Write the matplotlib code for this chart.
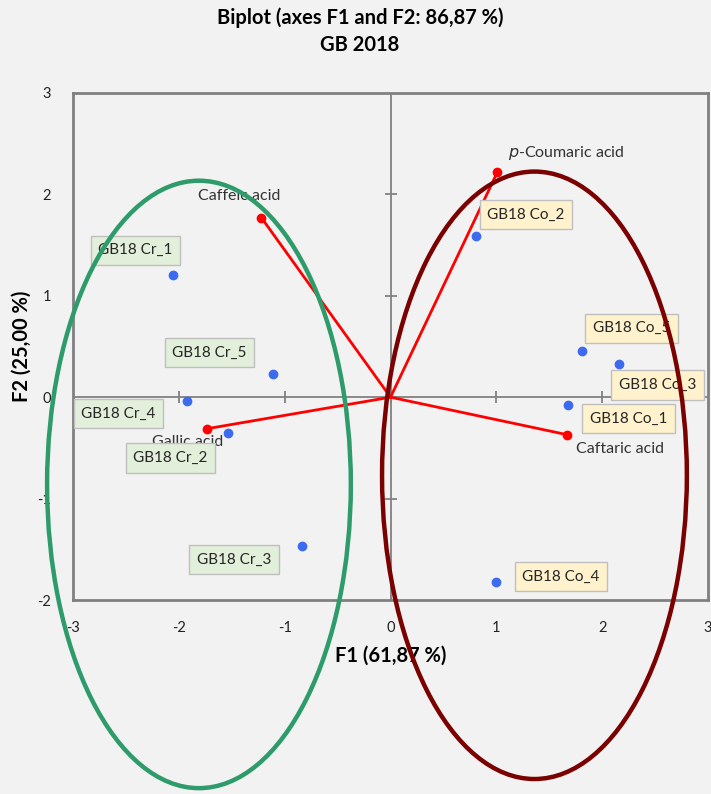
import matplotlib
matplotlib.use("Agg")
import matplotlib.pyplot as plt
from matplotlib.patches import Ellipse

plt.rcParams['font.family'] = ['Lato', 'DejaVu Sans']

# Observations (PCA scores)
obs_names = ["GB18 Cr_1", "GB18 Cr_5", "GB18 Cr_4", "GB18 Cr_2", "GB18 Cr_3",
             "GB18 Co_2", "GB18 Co_5", "GB18 Co_3", "GB18 Co_1", "GB18 Co_4"]
obs_f1 = [-2.06, -1.11, -1.92, -1.54, -0.84, 0.81, 1.81, 2.16, 1.68, 1.00]
obs_f2 = [1.21, 0.23, -0.04, -0.35, -1.47, 1.59, 0.46, 0.33, -0.08, -1.82]
obs_group = ["Cr", "Cr", "Cr", "Cr", "Cr", "Co", "Co", "Co", "Co", "Co"]

# Variables (loadings)
var_names = ["Caffeic acid", "$\\it{p}$-Coumaric acid", "Gallic acid", "Caftaric acid"]
var_f1 = [-1.22, 1.01, -1.73, 1.67]
var_f2 = [1.77, 2.22, -0.31, -0.37]

ticks_x = [-3, -2, -1, 0, 1, 2, 3]
ticks_y = [-2, -1, 0, 1, 2, 3]

bg = "#F2F2F2"
grey = "#808080"

fig = plt.figure(figsize=(7.11, 7.94), dpi=100, facecolor=bg)
ax = fig.add_axes([0.1027, 0.2443, 0.8931, 0.6386], facecolor=bg)
ax.set_xlim(-3, 3)
ax.set_ylim(-2, 3)

for s in ax.spines.values():
    s.set_color(grey)
    s.set_linewidth(2)

# zero axes with crossing tick marks
ax.axhline(0, color=grey, lw=1.3, zorder=1)
ax.axvline(0, color=grey, lw=1.3, zorder=1)
ax.plot([t for t in ticks_x if t not in (-3, 3)], [0] * 5, ls="none", marker="|",
        ms=9, mew=1.3, color=grey, zorder=1)
ax.plot([0] * 4, [t for t in ticks_y if t not in (-2, 3)], ls="none", marker="_",
        ms=9, mew=1.3, color=grey, zorder=1)

ax.set_xticks(ticks_x)
ax.set_yticks(ticks_y)
ax.set_xticklabels([str(t) for t in ticks_x])
ax.set_yticklabels([str(t) for t in ticks_y])
ax.tick_params(length=0, labelsize=10.5, colors="#222222", pad=15)
ax.tick_params(axis="y", pad=16)

# variable vectors
for x, y in zip(var_f1, var_f2):
    ax.plot([0, x], [0, y], color="#FF0000", lw=2, zorder=3)
    ax.plot([x], [y], "o", color="#FF0000", ms=6, zorder=3)

var_offsets = [(-0.21, 0.21), (0.65, 0.19), (-0.19, -0.13), (0.50, -0.14)]
for name, x, y, (dx, dy) in zip(var_names, var_f1, var_f2, var_offsets):
    ax.text(x + dx, y + dy, name, ha="center", va="center", fontsize=11.5,
            color="#333333", zorder=4)

# observations
ax.plot(obs_f1, obs_f2, "o", color="#3D6BF0", ms=6, ls="none", zorder=5)

obs_offsets = [(-0.35, 0.24), (-0.60, 0.21), (-0.65, -0.12), (-0.54, -0.25),
               (-0.64, -0.13), (0.47, 0.21), (0.47, 0.22), (0.36, -0.21),
               (0.57, -0.13), (0.61, 0.05)]
fills = {"Cr": "#E2EFDA", "Co": "#FFF2CC"}
for name, x, y, g, (dx, dy) in zip(obs_names, obs_f1, obs_f2, obs_group, obs_offsets):
    ax.text(x + dx, y + dy, name, ha="center", va="center", fontsize=11,
            color="#262626", zorder=6,
            bbox=dict(boxstyle="square,pad=0.5", fc=fills[g], ec="#BFBFBF", lw=1))

# group ellipses
ax.add_patch(Ellipse((-1.81, -0.86), 2.87, 5.99, fill=False, ec="#2E9B6A", lw=3.2,
                     clip_on=False, zorder=7))
ax.add_patch(Ellipse((1.36, -0.77), 2.88, 5.99, fill=False, ec="#7B0000", lw=3.2,
                     clip_on=False, zorder=7))

ax.set_xlabel("F1 (61,87 %)", fontsize=14.5, fontweight="bold", labelpad=8)
ax.set_ylabel("F2 (25,00 %)", fontsize=14.5, fontweight="bold", labelpad=4)

fig.text(0.506, 0.978, "Biplot (axes F1 and F2: 86,87 %)", ha="center", va="center",
         fontsize=14.5, fontweight="bold")
fig.text(0.506, 0.943, "GB 2018", ha="center", va="center", fontsize=14.5,
         fontweight="bold")

fig.savefig("out.png", dpi=100, facecolor=bg)
